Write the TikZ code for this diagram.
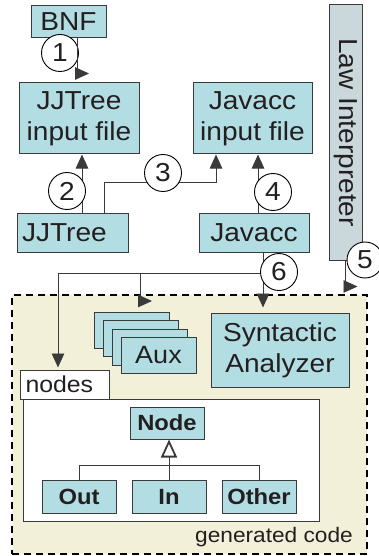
\documentclass[tikz,border=0pt]{standalone}
\usepackage{fontspec}
\setmainfont{Liberation Sans}[FakeStretch=1.08]
\usetikzlibrary{arrows.meta,calc}
\definecolor{boxfill}{HTML}{B2DDE3}
\definecolor{lawfill}{HTML}{CAD8DB}
\definecolor{genfill}{HTML}{F3F0D9}
\definecolor{edge}{HTML}{3A3A3A}
\definecolor{ink}{HTML}{231F20}
\tikzset{
  box/.style={draw=edge, line width=1pt, fill=boxfill, text=ink, inner sep=0pt, align=center,
    font=\fontsize{26}{31}\selectfont},
  cls/.style={box, font=\fontsize{22}{26}\selectfont\bfseries},
  num/.style={circle, draw=black, line width=0.9pt, fill=white, minimum size=37pt, inner sep=0pt,
    text=ink, font=\fontsize{26}{30}\selectfont},
  arr/.style={draw=edge, line width=0.9pt, -{Triangle[length=14pt,width=12.5pt]}},
  link/.style={draw=edge, line width=0.9pt},
  inherit/.style={draw=edge, line width=0.9pt, -{Triangle[open,length=18pt,width=16pt,line width=1.8pt]}},
}
\begin{document}
\begin{tikzpicture}[x=1pt,y=-1pt]
\useasboundingbox (0,0) rectangle (379,556);

% generated code area
\node[draw=black, line width=2.5pt, dash pattern=on 7pt off 5pt, fill=genfill,
  minimum width=355pt, minimum height=259pt, inner sep=0pt] (gen) at (189.5,424.5) {};
\node[anchor=east, text=ink, font=\fontsize{21}{25}\selectfont, inner sep=0pt] (genlabel) at (353,537) {generated code};

% tools and input files
\node[box, minimum width=75pt, minimum height=32pt] (bnf) at (68.5,22) {BNF};
\node[box, minimum width=120pt, minimum height=71pt] (jjin) at (79,118.5) {JJTree\\input file};
\node[box, minimum width=119pt, minimum height=71pt] (javin) at (252.5,118.5) {Javacc\\input file};
\node[box, text width=101pt, align=left, minimum height=39pt, inner xsep=5pt] (jjtree) at (72.5,232.5) {JJTree};
\node[box, minimum width=110pt, minimum height=39pt] (javacc) at (254,232.5) {Javacc};
\node[box, fill=lawfill, rotate=-90, minimum width=255pt, minimum height=33pt] (law) at (345.5,132.5) {Law Interpreter};

% generated artefacts
\node[box, minimum width=75pt, minimum height=36pt] (aux1) at (131.5,330) {};
\node[box, minimum width=75pt, minimum height=36pt] (aux2) at (140.5,338.5) {};
\node[box, minimum width=75pt, minimum height=36pt] (aux3) at (149.5,347) {};
\node[box, minimum width=75pt, minimum height=36pt, font=\fontsize{25}{30}\selectfont] (aux4) at (158.5,355.5) {Aux};
\node[box, minimum width=138pt, minimum height=74pt] (syn) at (280,350) {Syntactic\\Analyzer};

% nodes package
\node[draw=edge, line width=1pt, fill=white, minimum width=296pt, minimum height=122pt, inner sep=0pt] (pkg) at (171,460) {};
\node[draw=edge, line width=1pt, fill=white, text width=79pt, align=left, minimum height=29pt,
  inner xsep=5pt, inner ysep=0pt, text=ink, font=\fontsize{23}{27}\selectfont] (tab) at (65,384.5) {nodes};
\node[cls, minimum width=74pt, minimum height=32pt] (node) at (167,423) {Node};
\node[cls, minimum width=74pt, minimum height=33pt] (out) at (79,496.5) {Out};
\node[cls, minimum width=74pt, minimum height=33pt] (in) at (169,496.5) {In};
\node[cls, minimum width=74pt, minimum height=33pt] (other) at (259,496.5) {Other};

% inheritance
\draw[link] (out.north) -- ++(0,-14) -| (other.north);
\draw[inherit] (in.north) -- (in.north |- node.south);

% flow connectors
\draw[arr] ([xshift=8.5pt]bnf.south) |- ++(12,35);
\draw[arr] ([xshift=9.5pt]jjtree.north) -- ([xshift=9.5pt]jjtree.north |- jjin.south);
\draw[arr] ([xshift=31.5pt]jjtree.north) -- ++(0,-30) -| ([xshift=-36.5pt]javin.south);
\draw[arr] ([xshift=4pt]javacc.north) -- ([xshift=4pt]javacc.north |- javin.south);
\draw[arr] (law.east) |- ++(12,26);
\coordinate (j6) at ($([xshift=9pt]javacc.south)+(0,21)$);
\coordinate (jaux) at (140,273);
\draw[arr, shorten >=5pt] ([xshift=9pt]javacc.south) -- ([xshift=9pt]javacc.south |- syn.north);
\draw[arr, shorten >=2pt] (j6) -| ([xshift=-7pt]tab.north);
\draw[arr] (jaux) |- ++(12,28);

% step numbers
\node[num] (n1) at (60,53) {1};
\draw[link] ([xshift=8.5pt]bnf.south) -- ++(0,30);
\node[num] (n2) at (67,191) {2};
\node[num] (n3) at (163,173) {3};
\node[num] (n4) at (273,192) {4};
\node[num, minimum size=36pt] (n5) at (365,260) {5};
\node[num] (n6) at (279,272) {6};
\end{tikzpicture}
\end{document}
